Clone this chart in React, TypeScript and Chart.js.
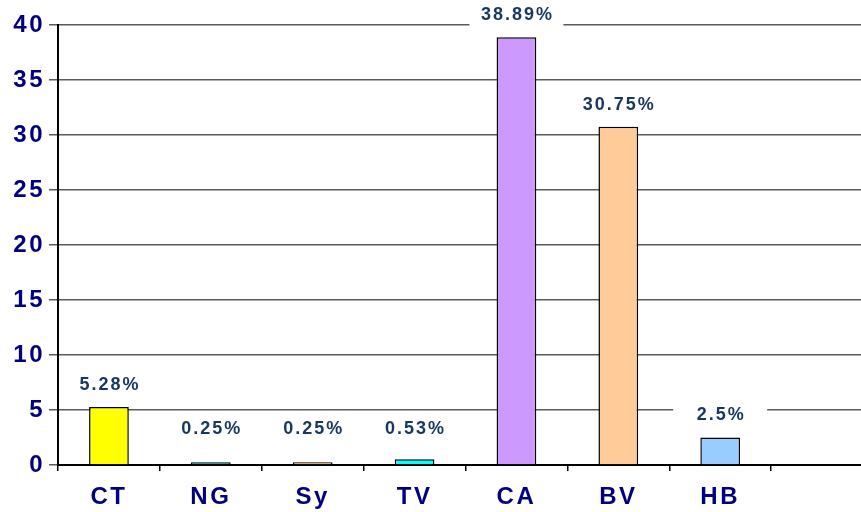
import React, { useEffect, useRef } from "react";
import { Chart, registerables } from "chart.js";

Chart.register(...registerables);

const categories = ["CT", "NG", "Sy", "TV", "CA", "BV", "HB", ""];
const values = [5.28, 0.25, 0.25, 0.53, 38.89, 30.75, 2.5, null];
const valueLabels = ["5.28%", "0.25%", "0.25%", "0.53%", "38.89%", "30.75%", "2.5%", ""];
const barColors = ["#FFFF00", "#008080", "#D9A066", "#00FFFF", "#CC99FF", "#FFCC99", "#99CCFF", "#FFFFFF"];
const yTicks = [0, 5, 10, 15, 20, 25, 30, 35, 40];

const FONT = "Arial, 'Liberation Sans', sans-serif";

const spacingPlugin = {
  id: "spacing",
  beforeUpdate(chart: any) {
    (chart.ctx as any).letterSpacing = "2.5px";
  },
  beforeDraw(chart: any) {
    (chart.ctx as any).letterSpacing = "2.5px";
  },
};

const labelPlugin = {
  id: "valueLabels",
  afterDatasetsDraw(chart: any) {
    const ctx = chart.ctx;
    const meta = chart.getDatasetMeta(0);
    const base = chart.scales.y.getPixelForValue(0);
    ctx.save();
    (ctx as any).letterSpacing = "2px";
    ctx.font = `bold 18px ${FONT}`;
    ctx.textAlign = "center";
    ctx.textBaseline = "middle";
    meta.data.forEach((bar: any, i: number) => {
      const txt = valueLabels[i];
      if (!txt) return;
      let cy = bar.y - 22;
      if (cy > base - 36) cy = base - 36;
      ctx.fillStyle = "#FFFFFF";
      ctx.fillRect(bar.x - 47, cy - 11, 94, 22);
      ctx.fillStyle = "#17375E";
      ctx.fillText(txt, bar.x + 1, cy);
    });
    ctx.restore();
  },
};

export default function App() {
  const ref = useRef<HTMLCanvasElement>(null);
  useEffect(() => {
    document.body.style.margin = "0";
    const chart = new Chart(ref.current!, {
      type: "bar",
      data: {
        labels: categories,
        datasets: [
          {
            data: values as any,
            backgroundColor: barColors,
            borderColor: "#000000",
            borderWidth: 1.5,
            barPercentage: 0.39,
            categoryPercentage: 1,
          },
        ],
      },
      options: {
        animation: false,
        responsive: false,
        maintainAspectRatio: false,
        layout: { padding: { top: 25, right: 0, left: 0, bottom: 0 } },
        plugins: { legend: { display: false }, tooltip: { enabled: false } },
        scales: {
          x: {
            grid: {
              display: true,
              drawOnChartArea: false,
              drawTicks: true,
              tickLength: 6,
              offset: true,
              color: "#000000",
              lineWidth: 1.5,
            },
            border: { display: true, color: "#000000", width: 2 },
            ticks: {
              color: "#000080",
              font: { family: FONT, size: 24, weight: "bold" },
              padding: 12,
              maxRotation: 0,
            },
            afterFit(scale: any) {
              scale.height = 47;
            },
          },
          y: {
            min: 0,
            max: 40,
            afterBuildTicks(scale: any) {
              scale.ticks = yTicks.map((v) => ({ value: v }));
            },
            grid: {
              color: "#5A5A5A",
              lineWidth: 1.5,
              tickLength: 9,
            },
            border: { display: true, color: "#000000", width: 2 },
            ticks: {
              color: "#000080",
              font: { family: FONT, size: 24, weight: "bold" },
              padding: 4,
            },
            afterFit(scale: any) {
              scale.width = 58;
            },
          },
        },
      },
      plugins: [spacingPlugin, labelPlugin],
    });
    return () => chart.destroy();
  }, []);
  return (
    <div style={{ position: "absolute", left: 0, top: 0, width: 861, height: 512, overflow: "hidden" }}>
      <canvas ref={ref} width={873} height={512} />
    </div>
  );
}
